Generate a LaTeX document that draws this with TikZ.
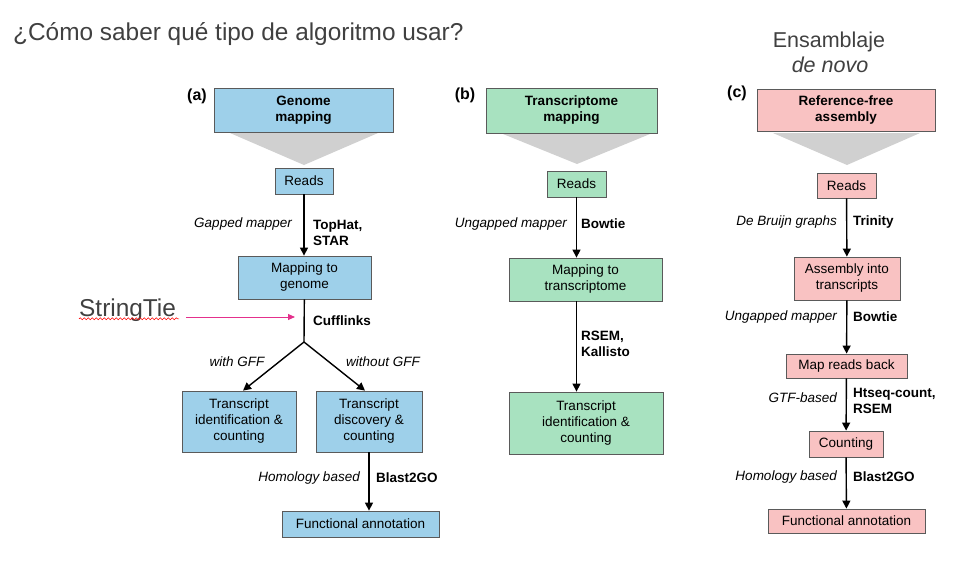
\documentclass[tikz,border=0pt]{standalone}
\usepackage{fontspec}
\setmainfont{Liberation Sans}
\usetikzlibrary{arrows.meta,decorations.pathmorphing}

\definecolor{genblue}{RGB}{158,208,234}
\definecolor{trgreen}{RGB}{168,226,192}
\definecolor{asmpink}{RGB}{249,194,194}
\definecolor{boxline}{RGB}{90,90,90}
\definecolor{funnelgray}{RGB}{208,208,208}
\definecolor{slidetext}{RGB}{64,64,64}
\definecolor{pinkarrow}{RGB}{228,48,140}

\newcommand\boxfont{\fontsize{13.5}{16}\selectfont}
\newcommand\bigfont{\fontsize{24.4}{28}\selectfont}

\tikzset{
  box/.style={draw=boxline, line width=0.8pt, inner sep=1pt, align=center, font=\boxfont},
  genbox/.style={box, fill=genblue},
  trbox/.style={box, fill=trgreen},
  asmbox/.style={box, fill=asmpink},
  flow/.style={-{Triangle[width=8pt,length=8pt]}, line width=1.4pt},
  method/.style={font=\boxfont\itshape, anchor=east, inner sep=0pt},
  tool/.style={font=\boxfont\bfseries, anchor=west, align=left, inner sep=0pt},
  panel/.style={font=\fontsize{16}{18}\selectfont\bfseries, inner sep=0pt},
  funnel/.style={fill=funnelgray},
}

\begin{document}
\begin{tikzpicture}[x=1pt,y=-1pt]
    \useasboundingbox (0,0) rectangle (980,570);

    % Headings
    \node[anchor=base west, inner sep=0pt, font=\bigfont, text=slidetext] (title) at (13,40) {¿Cómo saber qué tipo de algoritmo usar?};
    \node[font=\fontsize{21.5}{24}\selectfont, text=slidetext, inner sep=0pt] (ens) at (829,42) {Ensamblaje};
    \node[font=\fontsize{21.5}{24}\selectfont\itshape, text=slidetext, inner sep=0pt] (denovo) at (830,65) {de novo};

    % (a) Genome mapping
    \node[panel] (pa) at (197,96) {(a)};
    \node[genbox, font=\boxfont\bfseries, minimum width=179pt, minimum height=44pt] (gmap) at (303.5,110) {Genome\\mapping};
    \fill[funnel] (230,133) -- (378,133) -- (304,165) -- cycle;
    \node[genbox, minimum width=58pt, minimum height=26pt] (readsa) at (304,181) {Reads};
    \node[genbox, minimum width=133pt, minimum height=43pt] (mapgen) at (304.5,277.5) {Mapping to\\genome};
    \node[genbox, minimum width=114pt, minimum height=61pt] (tida) at (239,421.5) {Transcript\\identification \&\\counting};
    \node[genbox, minimum width=106pt, minimum height=61pt] (tdisc) at (369,421.5) {Transcript\\discovery \&\\counting};
    \node[genbox, minimum width=157pt, minimum height=26pt] (funca) at (360.5,524) {Functional annotation};
    \coordinate (split) at (304,342);

    \draw[flow] (readsa) -- (readsa |- mapgen.north);
    \draw[line width=1.4pt] (mapgen) -- (split);
    \draw[flow] (split) -- ([xshift=4pt]tida.north);
    \draw[flow] (split) -- ([xshift=-4pt]tdisc.north);
    \draw[flow] (tdisc.south) -- (tdisc.south |- funca.north);

    \node[method] (gapped) at (292,224) {Gapped mapper};
    \node[tool] (tophat) at (313,233) {TopHat,\\STAR};
    \node[tool] (cuff) at (313,321) {Cufflinks};
    \node[method, anchor=center] (withgff) at (237,362) {with GFF};
    \node[method, anchor=center] (withoutgff) at (383,362) {without GFF};
    \node[method] (homola) at (360,478) {Homology based};
    \node[tool] (blasta) at (376,478) {Blast2GO};

    % StringTie note
    \node[anchor=west, inner sep=0pt, font=\bigfont, text=slidetext] (stie) at (79,310) {StringTie};
    \coordinate (cuffin) at (295,317);
    \draw[pinkarrow, line width=0.9pt, -{Triangle[width=6pt,length=7pt]}, shorten <=10pt] (stie.east |- cuffin) -- (cuffin);
    \draw[red, line width=0.6pt, decorate, decoration={snake, amplitude=1pt, segment length=4pt}] ([yshift=-2.5pt]stie.base west) -- ([yshift=-2.5pt,xshift=3pt]stie.base east);

    % (b) Transcriptome mapping
    \node[panel] (pb) at (465,95) {(b)};
    \node[trbox, font=\boxfont\bfseries, minimum width=171pt, minimum height=45pt] (tmap) at (571.5,110.5) {Transcriptome\\mapping};
    \fill[funnel] (503,134) -- (650,134) -- (577,164) -- cycle;
    \node[trbox, minimum width=59pt, minimum height=26pt] (readsb) at (576.5,184) {Reads};
    \node[trbox, minimum width=153pt, minimum height=43pt] (maptr) at (585.5,279.5) {Mapping to\\transcriptome};
    \node[trbox, minimum width=154pt, minimum height=62pt] (tidb) at (586,423) {Transcript\\identification \&\\counting};

    \draw[flow] (readsb) -- (readsb |- maptr.north);
    \draw[flow] (readsb |- maptr.south) -- (readsb |- tidb.north);

    \node[method] (ungapb) at (567,224) {Ungapped mapper};
    \node[tool] (bowtieb) at (581,224) {Bowtie};
    \node[tool] (rsemb) at (581,344) {RSEM,\\Kallisto};

    % (c) Reference-free assembly
    \node[panel] (pc) at (737,93) {(c)};
    \node[asmbox, font=\boxfont\bfseries, minimum width=178pt, minimum height=42pt] (rfa) at (846,110) {Reference-free\\assembly};
    \fill[funnel] (773,133) -- (920,133) -- (847,165) -- cycle;
    \node[asmbox, minimum width=59pt, minimum height=25pt] (readsc) at (846.5,185.5) {Reads};
    \node[asmbox, minimum width=106pt, minimum height=43pt] (asm) at (847,278.5) {Assembly into\\transcripts};
    \node[asmbox, minimum width=121pt, minimum height=24pt] (mrb) at (846.5,366) {Map reads back};
    \node[asmbox, minimum width=74pt, minimum height=26pt] (cnt) at (846,444) {Counting};
    \node[asmbox, minimum width=157pt, minimum height=24pt] (funcc) at (846.5,521) {Functional annotation};

    \draw[flow] (readsc) -- (asm);
    \draw[flow] (asm) -- (mrb);
    \draw[flow] (mrb) -- (cnt);
    \draw[flow] (cnt) -- (funcc);

    \node[method] (bruijn) at (837,222) {De Bruijn graphs};
    \node[tool] (trinity) at (853,222) {Trinity};
    \node[method] (ungapc) at (837,317) {Ungapped mapper};
    \node[tool] (bowtiec) at (853,317) {Bowtie};
    \node[method] (gtf) at (837,398) {GTF-based};
    \node[tool] (htseq) at (853,401) {Htseq-count,\\RSEM};
    \node[method] (homolc) at (837,477) {Homology based};
    \node[tool] (blastc) at (853,477) {Blast2GO};
\end{tikzpicture}
\end{document}
